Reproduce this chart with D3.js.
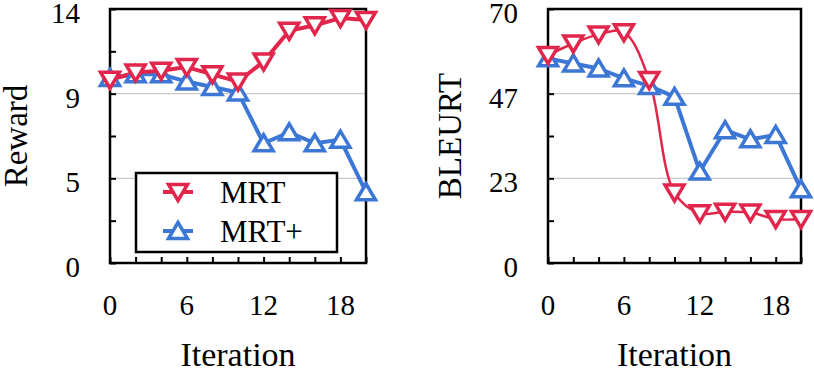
<!DOCTYPE html>
<html><head><meta charset="utf-8">
<script src="https://cdn.jsdelivr.net/npm/d3@7"></script>
<style>body{margin:0;background:#fff}svg{display:block}</style>
</head><body><svg id="c" width="814" height="372"></svg>
<script>
const iterations = [0,2,4,6,8,10,12,14,16,18,20];
const rewardMRT     = [10.1,10.5,10.6,10.8,10.4,10.0,11.1,12.8,13.1,13.5,13.4];
const rewardMRTPlus = [10.2,10.4,10.4,10.0,9.7,9.4,6.6,7.2,6.6,6.8,3.9];
const bleurtMRT     = [57.3,60.5,63.0,63.6,50.4,19.4,13.7,14.1,13.9,12.1,12.1];
const bleurtMRTPlus = [56.4,55.0,53.6,50.9,48.8,45.8,25.2,36.6,34.1,35.3,20.3];
const xTickLabels = [0,6,12,18];
const rewardTickLabels = ["0","5","9","14"];
const bleurtTickLabels = ["0","23","47","70"];
const seriesNames = ["MRT","MRT+"];
const RED = "#e2264b", BLUE = "#3d77d6";
const FONT = '"Liberation Serif"';

const svg = d3.select("#c");

function txt(sel){ return sel.style("font-family", FONT).attr("fill","#000"); }

function panel(opt){
  const x = d3.scaleLinear().domain([0,20]).range([opt.x0,opt.x1]);
  const y = d3.scaleLinear().domain([0,opt.ymax]).range([263,9]);
  const g = svg.append("g");
  const yTicks = d3.range(0,7).map(k=>k*opt.ymax/6);
  const labeled = yTicks.filter((d,i)=>i%2===0);
  g.selectAll(".grid").data(labeled.slice(1,-1)).join("line")
    .attr("x1",opt.x0).attr("x2",opt.x1).attr("y1",d=>y(d)).attr("y2",d=>y(d))
    .attr("stroke","#c8c8c8").attr("stroke-width",1.2);
  const yAxis = d3.axisLeft(y).tickValues(yTicks).tickSize(-6).tickFormat("");
  const ya = g.append("g").attr("transform",`translate(${opt.x0},0)`).call(yAxis);
  ya.select(".domain").remove();
  ya.selectAll("line").attr("stroke","#000").attr("stroke-width",2);
  txt(g.selectAll(".yl").data(labeled).join("text"))
    .attr("x",opt.x0-30).attr("y",d=>y(d)+4).attr("dy","0.35em")
    .attr("text-anchor","end").attr("font-size",29)
    .text((d,i)=>opt.yLabels[i]);
  const xAxis = d3.axisBottom(x).tickValues(iterations).tickSize(-6).tickFormat("");
  const xa = g.append("g").attr("transform","translate(0,263)").call(xAxis);
  xa.select(".domain").remove();
  xa.selectAll("line").attr("stroke","#000").attr("stroke-width",2);
  txt(g.selectAll(".xl").data(xTickLabels).join("text"))
    .attr("x",d=>x(d)).attr("y",315).attr("text-anchor","middle").attr("font-size",29)
    .text(d=>d);
  g.append("rect").attr("x",opt.x0).attr("y",9).attr("width",opt.x1-opt.x0).attr("height",254)
    .attr("fill","none").attr("stroke","#000").attr("stroke-width",2.5);
  txt(g.append("text")).attr("x",(opt.x0+opt.x1)/2).attr("y",366).attr("text-anchor","middle")
    .attr("font-size",34).text("Iteration");
  txt(g.append("text")).attr("transform",`translate(${opt.titleX},136) rotate(-90)`)
    .attr("text-anchor","middle").attr("dy","0.35em").attr("font-size",33).text(opt.title);
  const series = [
    {vals:opt.blue, color:BLUE, up:true, w:4, curve:d3.curveLinear},
    {vals:opt.red, color:RED, up:false, w:opt.redW, curve:opt.redCurve}
  ];
  series.forEach(s=>{
    const line = d3.line().x((d,i)=>x(iterations[i])).y(d=>y(d)).curve(s.curve);
    g.append("path").datum(s.vals).attr("d",line).attr("fill","none")
      .attr("stroke",s.color).attr("stroke-width",s.w).attr("stroke-linejoin","round");
  });
  series.forEach(s=>{
    g.selectAll(null).data(s.vals).join("path")
      .attr("transform",(d,i)=>`translate(${x(iterations[i])},${y(d)})`)
      .attr("d",s.up?"M-9.5,7.5L9.5,7.5L0,-8.5Z":"M-9.5,-7.5L9.5,-7.5L0,8.5Z")
      .attr("fill","#fff").attr("stroke",s.color).attr("stroke-width",3.5);
  });
}

panel({x0:110,x1:366,ymax:14,yLabels:rewardTickLabels,title:"Reward",titleX:15,
  red:rewardMRT,blue:rewardMRTPlus,redW:4,redCurve:d3.curveLinear});
panel({x0:548,x1:801,ymax:70,yLabels:bleurtTickLabels,title:"BLEURT",titleX:449,
  red:bleurtMRT,blue:bleurtMRTPlus,redW:2.5,redCurve:d3.curveCatmullRom.alpha(0.5)});

const lg = svg.append("g");
lg.append("rect").attr("x",136).attr("y",173).attr("width",201).attr("height",79)
  .attr("fill","#fff").attr("stroke","#000").attr("stroke-width",2.5);
const legendItems = [{name:seriesNames[0],color:RED,up:false,y:192},{name:seriesNames[1],color:BLUE,up:true,y:231}];
legendItems.forEach(it=>{
  lg.append("line").attr("x1",163).attr("x2",193).attr("y1",it.y).attr("y2",it.y)
    .attr("stroke",it.color).attr("stroke-width",4);
  lg.append("path").attr("transform",`translate(178,${it.y})`)
    .attr("d",it.up?"M-9.5,7.5L9.5,7.5L0,-8.5Z":"M-9.5,-7.5L9.5,-7.5L0,8.5Z")
    .attr("fill","#fff").attr("stroke",it.color).attr("stroke-width",3.5);
  txt(lg.append("text")).attr("x",220).attr("y",it.y).attr("dy","0.35em").attr("font-size",31).text(it.name);
});
</script></body></html>
